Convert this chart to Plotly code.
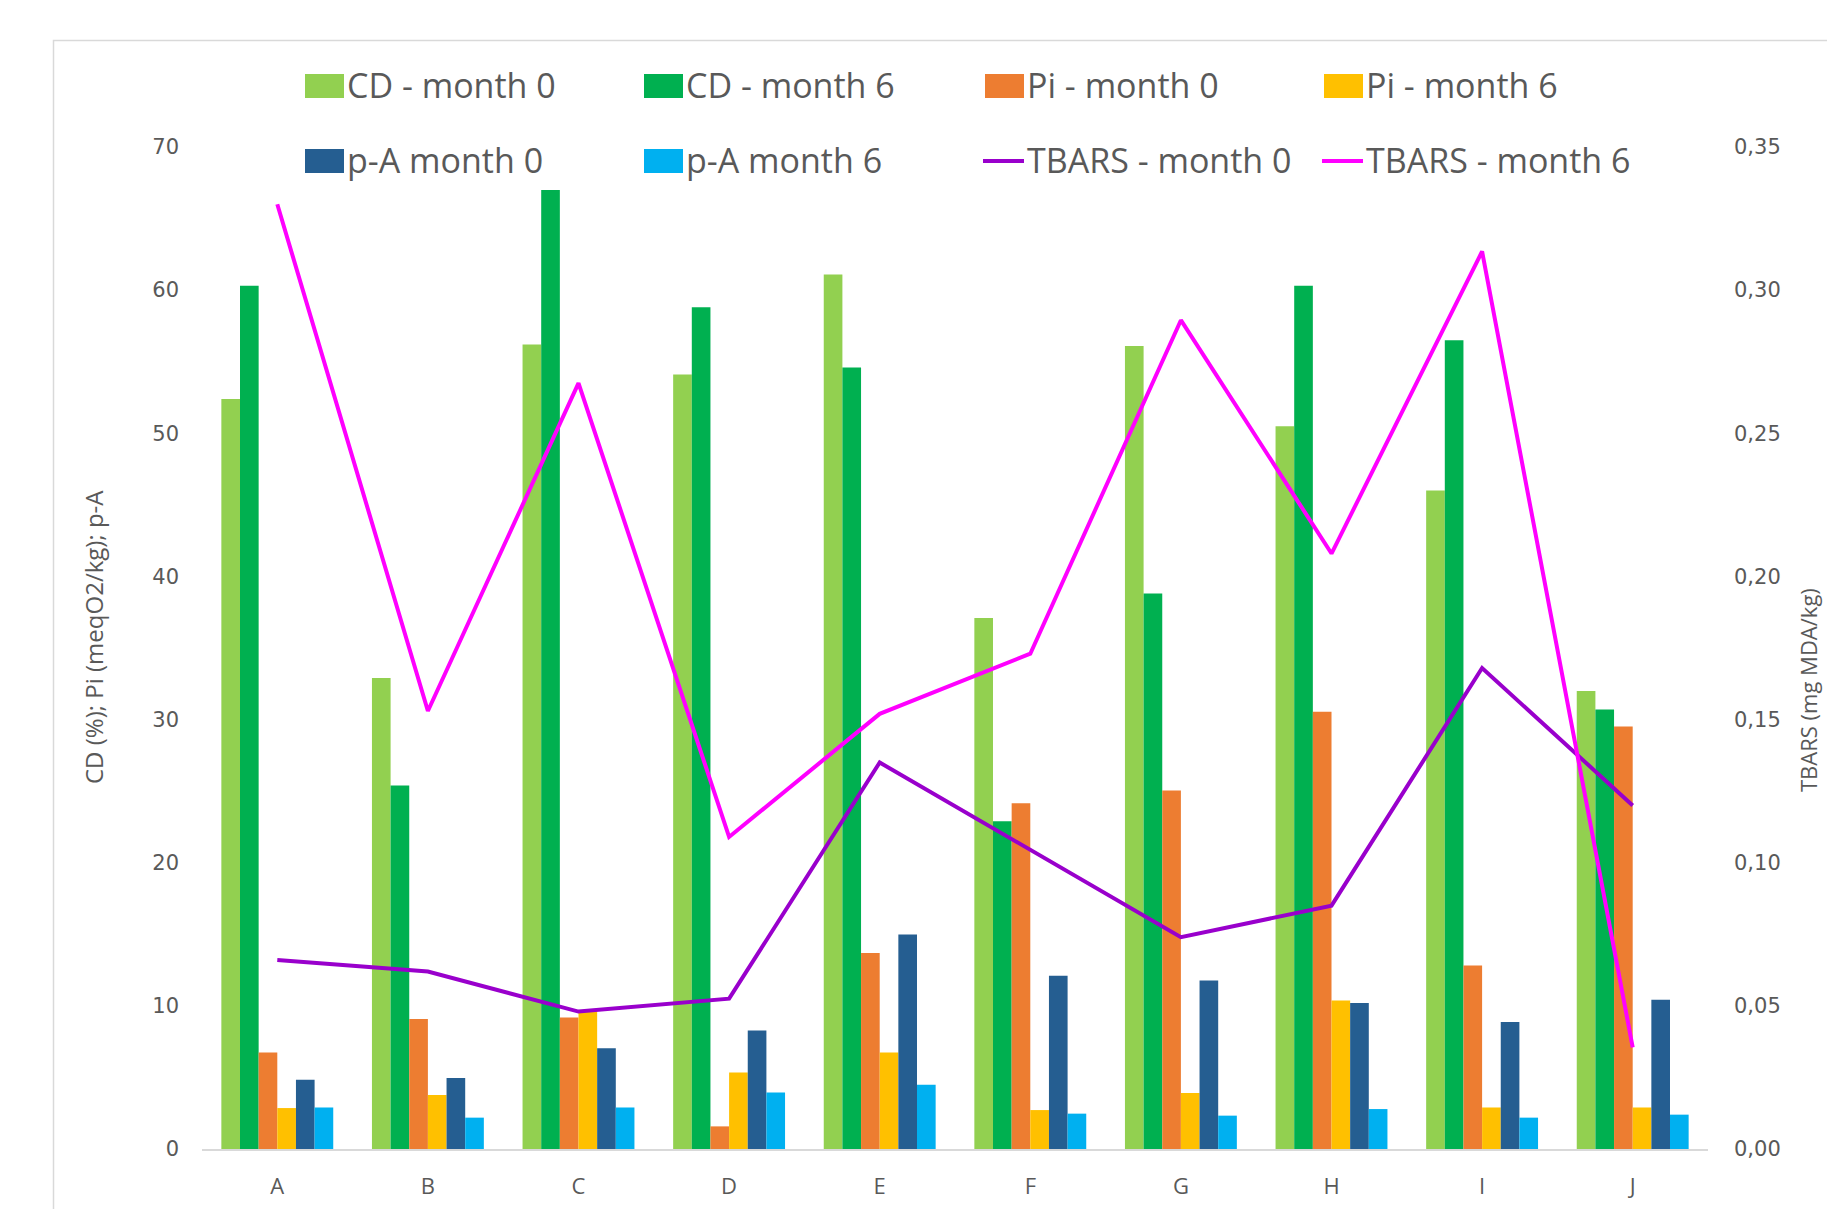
import plotly.graph_objects as go

# ---- data -------------------------------------------------------------
samples = ["A", "B", "C", "D", "E", "F", "G", "H", "I", "J"]

cd_m0 = [52.4, 32.9, 56.2, 54.1, 61.1, 37.1, 56.1, 50.5, 46.0, 32.0]
cd_m6 = [60.3, 25.4, 67.0, 58.8, 54.6, 22.9, 38.8, 60.3, 56.5, 30.7]
pi_m0 = [6.75, 9.08, 9.19, 1.58, 13.69, 24.16, 25.04, 30.54, 12.82, 29.51]
pi_m6 = [2.86, 3.77, 9.61, 5.35, 6.75, 2.72, 3.91, 10.38, 2.90, 2.90]
pa_m0 = [4.84, 4.96, 7.03, 8.28, 14.99, 12.10, 11.78, 10.20, 8.87, 10.43]
pa_m6 = [2.90, 2.19, 2.90, 3.95, 4.49, 2.47, 2.33, 2.79, 2.19, 2.40]

tbars_m0 = [0.066, 0.062, 0.048, 0.0525, 0.135, 0.1045, 0.074, 0.085, 0.168, 0.120]
tbars_m6 = [0.330, 0.153, 0.2675, 0.109, 0.152, 0.173, 0.2895, 0.208, 0.3135, 0.0355]

bar_names = ["CD - month 0", "CD - month 6", "Pi - month 0",
             "Pi - month 6", "p-A month 0", "p-A month 6"]
line_names = ["TBARS - month 0", "TBARS - month 6"]

left_ticks = [0, 10, 20, 30, 40, 50, 60, 70]
right_ticks = [0.00, 0.05, 0.10, 0.15, 0.20, 0.25, 0.30, 0.35]

left_title = "CD (%); Pi (meqO2/kg); p-A"
right_title = "TBARS (mg MDA/kg)"

# ---- styling ------------------------------------------------------------
bar_colors = ["#92D050", "#00B050", "#ED7D31", "#FFC000", "#255E91", "#00B0F0"]
line_colors = ["#9900CC", "#FF00FF"]
text_grey = "#595959"
rule_grey = "#D9D9D9"

W, H = 1827, 1209
ML, MR, MT, MB = 202, 119, 147, 60
PW, PH = W - ML - MR, H - MT - MB


def px_x(x):
    return (x - ML) / PW


def px_y(y):
    return (H - MB - y) / PH


fig = go.Figure()

bar_series = [cd_m0, cd_m6, pi_m0, pi_m6, pa_m0, pa_m6]
for name, vals, col in zip(bar_names, bar_series, bar_colors):
    fig.add_trace(go.Bar(x=samples, y=vals, name=name, marker_color=col,
                         marker_line_width=0, showlegend=False))

for name, vals, col in zip(line_names, [tbars_m0, tbars_m6], line_colors):
    fig.add_trace(go.Scatter(x=samples, y=vals, name=name, mode="lines",
                             line=dict(color=col, width=4), yaxis="y2",
                             showlegend=False))

# ---- hand-drawn legend (4 columns x 2 rows) -----------------------------
col_x = [305, 644, 985, 1324]
row_y = [86, 161]
entries = [(n, c, "bar") for n, c in zip(bar_names, bar_colors)] + \
          [(n, c, "line") for n, c in zip(line_names, line_colors)]

shapes = []
annotations = []
for i, (name, col, kind) in enumerate(entries):
    cx = col_x[i % 4]
    cy = row_y[i // 4]
    if kind == "bar":
        shapes.append(dict(type="rect", xref="paper", yref="paper",
                           x0=px_x(cx), x1=px_x(cx + 39),
                           y0=px_y(cy + 12), y1=px_y(cy - 12),
                           fillcolor=col, line=dict(width=0)))
    else:
        shapes.append(dict(type="line", xref="paper", yref="paper",
                           x0=px_x(cx - 2), x1=px_x(cx + 39),
                           y0=px_y(cy), y1=px_y(cy),
                           line=dict(color=col, width=4)))
    annotations.append(dict(text=name, xref="paper", yref="paper",
                            x=px_x(cx + 40), y=px_y(cy - 1),
                            xanchor="left", yanchor="middle", showarrow=False,
                            font=dict(family="Open Sans", size=34, color=text_grey)))

# chart-area border
shapes.append(dict(type="rect", xref="paper", yref="paper", layer="below",
                   x0=px_x(53.5), x1=px_x(W + 50), y0=px_y(H + 50), y1=px_y(40.5),
                   line=dict(color=rule_grey, width=1.5), fillcolor="rgba(0,0,0,0)"))

# axis titles
annotations.append(dict(text=left_title, xref="paper", yref="paper",
                        x=px_x(93), y=px_y(637), textangle=-90,
                        xanchor="center", yanchor="middle", showarrow=False,
                        font=dict(family="Open Sans", size=24, color=text_grey)))
annotations.append(dict(text=right_title, xref="paper", yref="paper",
                        x=px_x(1808), y=px_y(690), textangle=-90,
                        xanchor="center", yanchor="middle", showarrow=False,
                        font=dict(family="Open Sans", size=22, color=text_grey)))

fig.update_layout(
    width=W, height=H,
    margin=dict(l=ML, r=MR, t=MT, b=MB, pad=0, autoexpand=False),
    paper_bgcolor="white", plot_bgcolor="white",
    barmode="group", bargap=0.257, bargroupgap=0,
    separators=",.",
    showlegend=False,
    shapes=shapes, annotations=annotations,
    xaxis=dict(showgrid=False, zeroline=False, showline=True, automargin=False,
               linecolor=rule_grey, linewidth=2, ticks="",
               ticklabelstandoff=17,
               tickfont=dict(family="Open Sans", size=22, color=text_grey)),
    yaxis=dict(range=[0, 70], tickvals=left_ticks, showgrid=False,
               zeroline=False, showline=False, ticks="", automargin=False,
               ticklabelstandoff=22,
               tickfont=dict(family="DejaVu Sans", size=21, color=text_grey)),
    yaxis2=dict(range=[0, 0.35], tickvals=right_ticks, tickformat=".2f",
                overlaying="y", side="right", showgrid=False, zeroline=False,
                showline=False, ticks="", ticklabelstandoff=25, automargin=False,
                tickfont=dict(family="DejaVu Sans", size=21, color=text_grey)),
)

fig.write_html("out.html")
